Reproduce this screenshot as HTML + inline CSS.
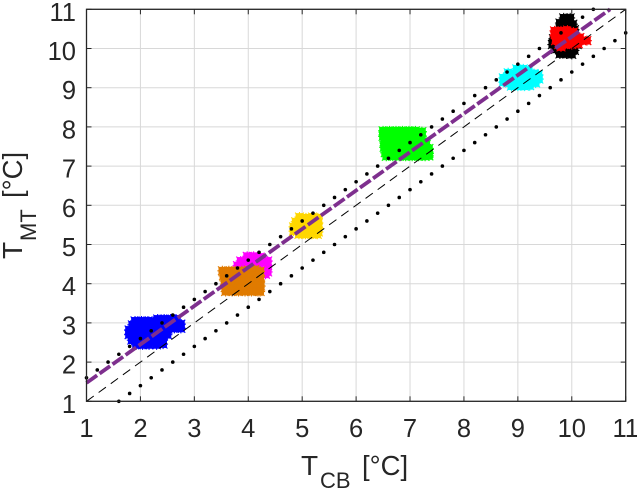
<!DOCTYPE html>
<html>
<head>
<meta charset="utf-8">
<style>
html,body{margin:0;padding:0;background:#fff;width:637px;height:490px;overflow:hidden}
svg{display:block}
text{font-family:"Liberation Sans",Arial,sans-serif;fill:#262626}
</style>
</head>
<body>
<svg id="chart" width="637" height="490" viewBox="0 0 637 490" xmlns="http://www.w3.org/2000/svg">
  <rect x="0" y="0" width="637" height="490" fill="#ffffff"/>
  <g id="grid"></g>
  <g id="clusters"></g>
  <g id="lines"></g>
  <g id="axes"></g>
  <text font-size="28"><tspan x="301" y="475">T</tspan><tspan x="320" y="488" font-size="22">CB</tspan><tspan x="362" y="475" font-size="27.5">[°C]</tspan></text>
  <text font-size="28" transform="translate(22,259) rotate(-90)"><tspan x="0" y="0">T</tspan><tspan x="18" y="14" font-size="22">MT</tspan><tspan x="61" y="0" font-size="27.5">[°C]</tspan></text>
</svg>
<script>
const xTicks = [1,2,3,4,5,6,7,8,9,10,11];
const yTicks = [1,2,3,4,5,6,7,8,9,10,11];

const blackPoints = [[9.85,10.78],[9.97,10.78],[9.78,10.65],[9.9,10.65],[10.02,10.62],[9.78,10.5],[9.9,10.5],[10.05,10.48],[9.75,10.35],[9.9,10.35],[10.05,10.35],[9.66,10.25],[9.8,10.2],[9.95,10.2],[10.08,10.2],[9.64,10.1],[9.76,10.05],[9.9,10.05],[10.03,10.05],[10.1,10.1],[9.7,9.98],[9.83,9.93],[9.95,9.95],[10.05,9.95],[9.78,9.86],[9.9,9.86],[10,9.85]];
const redPoints = [[9.68,10.45],[9.8,10.45],[9.92,10.47],[10.03,10.42],[9.68,10.32],[9.8,10.32],[9.92,10.32],[10.04,10.3],[10.15,10.28],[9.7,10.2],[9.82,10.2],[9.94,10.2],[10.06,10.2],[10.18,10.2],[10.28,10.2],[9.76,10.1],[9.88,10.1],[10,10.1],[10.12,10.12],[9.8,10.04]];
const cyanPoints = [[8.98,9.48],[9.1,9.48],[9.2,9.45],[8.82,9.38],[8.94,9.36],[9.06,9.36],[9.18,9.36],[9.3,9.36],[9.38,9.33],[8.73,9.25],[8.85,9.25],[8.97,9.25],[9.09,9.25],[9.21,9.25],[9.33,9.25],[9.39,9.22],[8.73,9.14],[8.85,9.12],[8.97,9.12],[9.09,9.12],[9.21,9.12],[9.33,9.12],[8.88,9.04],[9,9.04],[9.12,9.04],[9.22,9.05]];
const greenPoints = [[6.5,7.9],[6.62,7.9],[6.74,7.9],[6.86,7.9],[6.98,7.9],[7.1,7.9],[7.22,7.88],[6.5,7.76],[6.62,7.76],[6.74,7.76],[6.86,7.76],[6.98,7.76],[7.1,7.76],[7.22,7.76],[6.52,7.62],[6.64,7.62],[6.76,7.62],[6.88,7.62],[7,7.62],[7.12,7.62],[7.24,7.62],[7.3,7.55],[6.52,7.48],[6.64,7.48],[6.76,7.48],[6.88,7.48],[7,7.48],[7.12,7.48],[7.24,7.48],[7.35,7.45],[6.54,7.34],[6.66,7.34],[6.78,7.34],[6.9,7.34],[7.02,7.34],[7.14,7.34],[7.26,7.34],[7.35,7.32],[6.56,7.25],[6.68,7.25],[6.8,7.25],[6.92,7.25],[7.04,7.25],[7.16,7.25],[7.28,7.25],[7.35,7.26]];
const yellowPoints = [[4.95,5.7],[5.07,5.68],[5.19,5.7],[5.29,5.68],[4.88,5.58],[5,5.56],[5.12,5.56],[5.24,5.56],[5.3,5.55],[4.84,5.45],[4.96,5.44],[5.08,5.44],[5.2,5.44],[5.3,5.42],[4.84,5.34],[4.96,5.32],[5.08,5.32],[5.2,5.32],[5.3,5.32],[4.94,5.26],[5.06,5.26],[5.18,5.26],[5.28,5.26]];
const magentaPoints = [[3.98,4.7],[4.1,4.7],[4.22,4.68],[3.86,4.58],[3.98,4.58],[4.1,4.58],[4.22,4.58],[4.36,4.58],[3.8,4.46],[3.94,4.46],[4.06,4.46],[4.2,4.46],[4.36,4.46],[4.3,4.34],[4.36,4.3],[4.32,4.24]];
const orangePoints = [[3.52,4.33],[3.64,4.33],[3.76,4.33],[3.88,4.33],[4,4.35],[4.12,4.36],[4.22,4.32],[3.54,4.2],[3.66,4.2],[3.78,4.2],[3.9,4.2],[4.02,4.2],[4.14,4.2],[4.22,4.2],[3.56,4.07],[3.68,4.07],[3.8,4.07],[3.92,4.07],[4.04,4.07],[4.16,4.07],[4.22,4.07],[3.58,3.94],[3.7,3.94],[3.82,3.94],[3.94,3.94],[4.06,3.94],[4.18,3.94],[4.23,3.94],[3.58,3.8],[3.7,3.8],[3.82,3.8],[3.94,3.8],[4.06,3.8],[4.18,3.8],[4.22,3.8]];
const bluePoints = [[1.9,3.05],[2.02,3.05],[2.14,3.05],[2.24,3.04],[2.32,3.1],[2.44,3.1],[2.56,3.1],[2.66,3.1],[1.85,2.95],[1.97,2.95],[2.09,2.95],[2.21,2.95],[2.33,2.97],[2.45,2.97],[2.57,2.97],[2.69,2.97],[2.75,2.97],[1.79,2.82],[1.91,2.82],[2.03,2.82],[2.15,2.82],[2.27,2.84],[2.39,2.84],[2.51,2.84],[2.63,2.86],[2.75,2.86],[1.79,2.7],[1.91,2.7],[2.03,2.7],[2.15,2.7],[2.27,2.7],[2.39,2.72],[2.5,2.7],[1.84,2.56],[1.96,2.56],[2.08,2.56],[2.2,2.56],[2.32,2.56],[2.42,2.56],[1.92,2.44],[2.04,2.44],[2.16,2.44],[2.3,2.44],[2.42,2.46]];

const identityX = [1,11];
const identityY = [1,11];
const fitX = [1,10.71];
const fitY = [1.47,11];
const upperBoundX = [1,1.2,1.4,1.6,1.8,2,2.2,2.4,2.6,2.8,3,3.2,3.4,3.6,3.8,4,4.2,4.4,4.6,4.8,5,5.2,5.4,5.6,5.8,6,6.2,6.4,6.6,6.8,7,7.2,7.4,7.6,7.8,8,8.2,8.4,8.6,8.8,9,9.2,9.4,9.6,9.8,10,10.2,10.4];
const upperBoundY = [1.6,1.8,2,2.2,2.4,2.6,2.8,3,3.2,3.4,3.6,3.8,4,4.2,4.4,4.6,4.8,5,5.2,5.4,5.6,5.8,6,6.2,6.4,6.6,6.8,7,7.2,7.4,7.6,7.8,8,8.2,8.4,8.6,8.8,9,9.2,9.4,9.6,9.8,10,10.2,10.4,10.6,10.8,11];
const lowerBoundX = [1.6,1.8,2,2.2,2.4,2.6,2.8,3,3.2,3.4,3.6,3.8,4,4.2,4.4,4.6,4.8,5,5.2,5.4,5.6,5.8,6,6.2,6.4,6.6,6.8,7,7.2,7.4,7.6,7.8,8,8.2,8.4,8.6,8.8,9,9.2,9.4,9.6,9.8,10,10.2,10.4,10.6,10.8,11];
const lowerBoundY = [1,1.2,1.4,1.6,1.8,2,2.2,2.4,2.6,2.8,3,3.2,3.4,3.6,3.8,4,4.2,4.4,4.6,4.8,5,5.2,5.4,5.6,5.8,6,6.2,6.4,6.6,6.8,7,7.2,7.4,7.6,7.8,8,8.2,8.4,8.6,8.8,9,9.2,9.4,9.6,9.8,10,10.2,10.4];

const NS = 'http://www.w3.org/2000/svg';
const xAxis = v => 86.5 + (v - 1) * 53.92;
const yAxis = v => 401.3 - (v - 1) * 39.2;
function mk(tag, attrs, parent){
  const el = document.createElementNS(NS, tag);
  for (const k in attrs) el.setAttribute(k, attrs[k]);
  parent.appendChild(el);
  return el;
}
const gridG = document.getElementById('grid');
const axesG = document.getElementById('axes');
const clustersG = document.getElementById('clusters');
const linesG = document.getElementById('lines');

xTicks.forEach(t => {
  const x = xAxis(t);
  const g = mk('line', {x1:x, x2:x, y1:yAxis(1), y2:yAxis(11), stroke:'#d8d8d8', 'stroke-width':1}, gridG);
  
  
  const a = mk('line', {x1:x, x2:x, y1:yAxis(1), y2:yAxis(1)-5, stroke:'#262626', 'stroke-width':1}, axesG);
  
  
  const b = mk('line', {x1:x, x2:x, y1:yAxis(11), y2:yAxis(11)+5, stroke:'#262626', 'stroke-width':1}, axesG);
  
  
  const l = mk('text', {x:x, y:437, 'text-anchor':'middle', 'font-size':25.5}, axesG);
  
  
  l.textContent = t;
});
yTicks.forEach(t => {
  const y = yAxis(t);
  const g = mk('line', {x1:xAxis(1), x2:xAxis(11), y1:y, y2:y, stroke:'#d8d8d8', 'stroke-width':1}, gridG);
  
  
  const a = mk('line', {x1:xAxis(1), x2:xAxis(1)+5, y1:y, y2:y, stroke:'#262626', 'stroke-width':1}, axesG);
  
  
  const b = mk('line', {x1:xAxis(11), x2:xAxis(11)-5, y1:y, y2:y, stroke:'#262626', 'stroke-width':1}, axesG);
  
  
  const l = mk('text', {x:76, y:y+11.5, 'text-anchor':'end', 'font-size':25.5}, axesG);
  
  
  l.textContent = t;
});
const box = mk('rect', {x:xAxis(1), y:yAxis(11), width:xAxis(11)-xAxis(1), height:yAxis(1)-yAxis(11), fill:'none', stroke:'#262626', 'stroke-width':1.3}, axesG);



function drawCluster(points, color, name){
  const g = mk('g', {fill:color, stroke:color}, clustersG);
  
  
  points.forEach(p => {
    const x = xAxis(p[0]), y = yAxis(p[1]);
    mk('rect', {x:x-3.9, y:y-3.9, width:7.8, height:7.8, 'stroke-width':0}, g);
    mk('path', {d:`M${x-4.4} ${y-4.4}L${x+4.4} ${y+4.4}M${x-4.4} ${y+4.4}L${x+4.4} ${y-4.4}M${x-5} ${y}L${x+5} ${y}M${x} ${y-5}L${x} ${y+5}`, fill:'none', 'stroke-width':1.1}, g);
  });
}
drawCluster(blackPoints, '#000000', 'black-cluster');
drawCluster(redPoints, '#ff0000', 'red-cluster');
drawCluster(cyanPoints, '#00ffff', 'cyan-cluster');
drawCluster(greenPoints, '#00ff00', 'green-cluster');
drawCluster(yellowPoints, '#ffd700', 'yellow-cluster');
drawCluster(magentaPoints, '#ff00ff', 'magenta-cluster');
drawCluster(orangePoints, '#e07b00', 'orange-cluster');
drawCluster(bluePoints, '#0000ff', 'blue-cluster');

const identityLine = mk('line', {x1:xAxis(identityX[0]), y1:yAxis(identityY[0]), x2:xAxis(identityX[1]), y2:yAxis(identityY[1]), stroke:'#000', 'stroke-width':1, 'stroke-dasharray':'9 6'}, linesG);


function drawDots(xs, ys, name){
  const g = mk('g', {fill:'#000'}, linesG);
  
  
  xs.forEach((v, i) => mk('circle', {cx:xAxis(v), cy:yAxis(ys[i]), r:1.8}, g));
}
drawDots(upperBoundX, upperBoundY, 'upper-bound-dotted-line');
drawDots(lowerBoundX, lowerBoundY, 'lower-bound-dotted-line');
const fitLine = mk('line', {x1:xAxis(fitX[0]), y1:yAxis(fitY[0]), x2:xAxis(fitX[1]), y2:yAxis(fitY[1]), stroke:'#7e2f8e', 'stroke-width':3.8, 'stroke-dasharray':'13 3'}, linesG);


</script>
</body>
</html>
